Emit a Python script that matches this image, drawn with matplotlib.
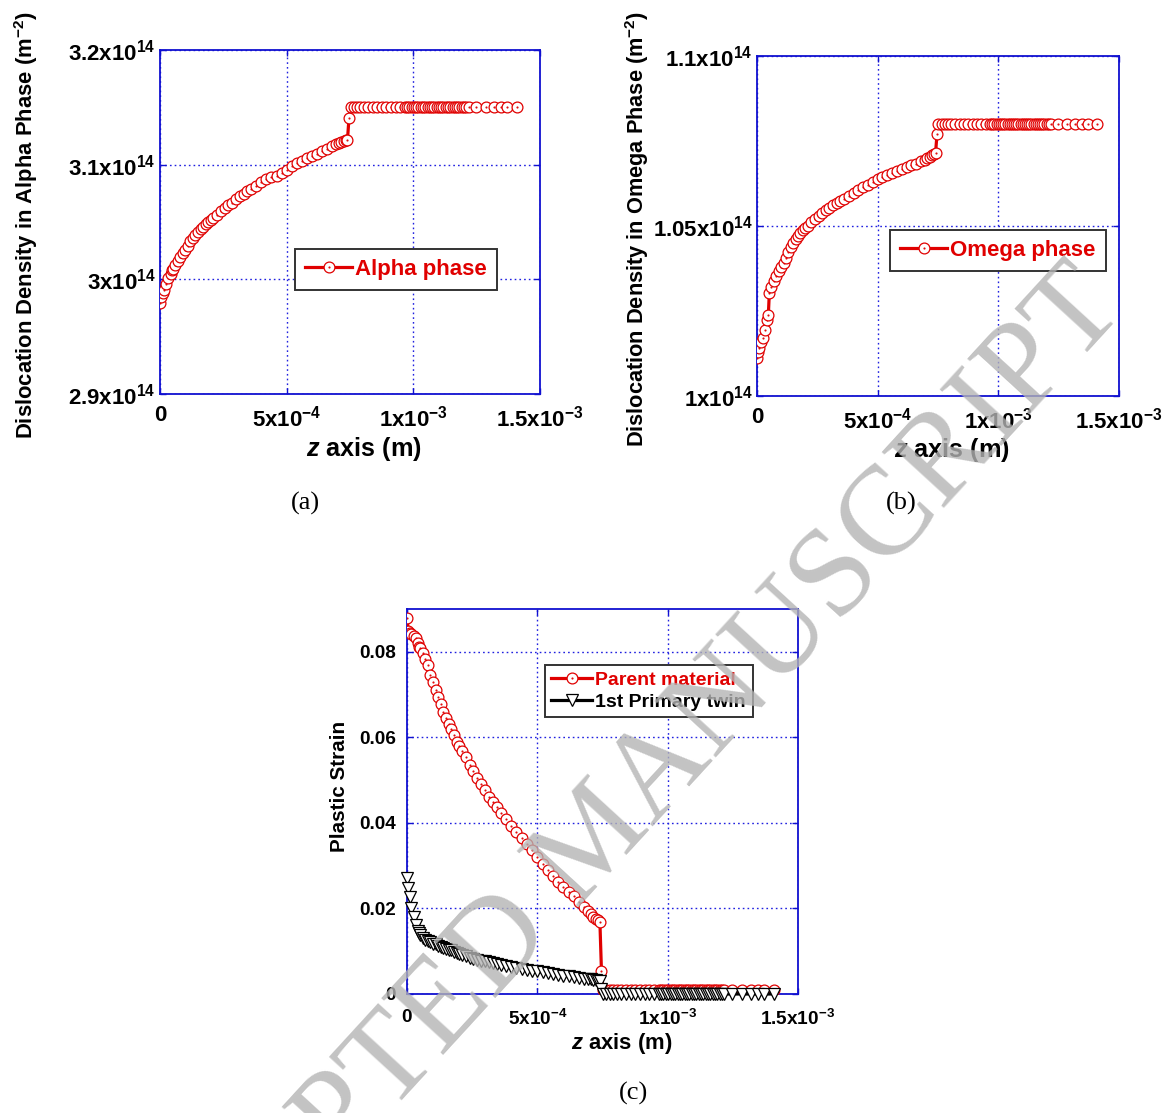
import numpy as np
import matplotlib
matplotlib.use("Agg")
import matplotlib.pyplot as plt
from matplotlib.path import Path
from matplotlib.ticker import FixedLocator, FixedFormatter

plt.rcParams["font.family"] = ["Liberation Sans", "DejaVu Sans"]
plt.rcParams["font.weight"] = "bold"
plt.rcParams["axes.labelweight"] = "bold"
plt.rcParams["mathtext.fontset"] = "custom"
plt.rcParams["mathtext.rm"] = "Liberation Sans:bold"
plt.rcParams["mathtext.it"] = "Liberation Sans:bold:italic"
plt.rcParams["mathtext.bf"] = "Liberation Sans:bold"
plt.rcParams["mathtext.default"] = "rm"

# ---------------------------------------------------------------- data
# z position along the specimen (units of 1e-4 m)
z_e4 = [
    0.00, 0.05, 0.10, 0.17, 0.25, 0.33, 0.42, 0.47, 0.51, 0.60,
    0.70, 0.80, 0.90, 1.00, 1.10, 1.20, 1.30, 1.40, 1.50, 1.60,
    1.70, 1.80, 1.90, 2.00, 2.10, 2.25, 2.40, 2.55, 2.70, 2.85,
    3.00, 3.15, 3.30, 3.45, 3.60, 3.80, 4.00, 4.20, 4.40, 4.60,
    4.80, 5.00, 5.20, 5.40, 5.60, 5.80, 6.00, 6.20, 6.40, 6.60,
    6.80, 6.95, 7.05, 7.15, 7.25, 7.33, 7.40, 7.46,
    7.52, 7.65, 7.78, 7.91, 8.04, 8.22, 8.40, 8.58, 8.76, 8.94,
    9.12, 9.30, 9.48, 9.66, 9.75, 9.84, 9.93, 10.02, 10.11, 10.20,
    10.29, 10.38, 10.47, 10.56, 10.65, 10.74, 10.83, 10.92, 11.01, 11.10,
    11.19, 11.28, 11.37, 11.46, 11.55, 11.64, 11.73, 11.82, 11.91, 12.00,
    12.09, 12.18, 12.47, 12.86, 13.19, 13.45, 13.71, 14.08,
]

# dislocation density in the alpha phase (units of 1e14 m^-2)
alpha_e14 = [
    2.979, 2.985, 2.988, 2.991, 2.996, 3.001, 3.005, 3.008, 3.009, 3.0125,
    3.016, 3.0195, 3.023, 3.026, 3.0295, 3.033, 3.036, 3.0385, 3.041, 3.0435,
    3.046, 3.048, 3.0497, 3.0515, 3.0532, 3.0565, 3.060, 3.0625, 3.0645, 3.067,
    3.0697, 3.0724, 3.0748, 3.077, 3.079, 3.0817, 3.0845, 3.0872, 3.0893, 3.0905,
    3.0928, 3.0955, 3.0985, 3.1015, 3.1035, 3.1054, 3.1073, 3.1095, 3.1117, 3.1139,
    3.1162, 3.1178, 3.119, 3.120, 3.121, 3.1213, 3.1215, 3.1407,
    3.15, 3.15, 3.15, 3.15, 3.15, 3.15, 3.15, 3.15, 3.15, 3.15,
    3.15, 3.15, 3.15, 3.15, 3.15, 3.15, 3.15, 3.15, 3.15, 3.15,
    3.15, 3.15, 3.15, 3.15, 3.15, 3.15, 3.15, 3.15, 3.15, 3.15,
    3.15, 3.15, 3.15, 3.15, 3.15, 3.15, 3.15, 3.15, 3.15, 3.15,
    3.15, 3.15, 3.15, 3.15, 3.15, 3.15, 3.15, 3.15,
]

# dislocation density in the omega phase (units of 1e14 m^-2)
omega_e14 = [
    1.0111, 1.0128, 1.0142, 1.0158, 1.0172, 1.0195, 1.0225, 1.0239, 1.0302, 1.032,
    1.0338, 1.0353, 1.0367, 1.0379, 1.0391, 1.0405, 1.0423, 1.0438, 1.045, 1.0461,
    1.047, 1.0479, 1.0487, 1.0494, 1.0501, 1.0511, 1.052, 1.0529, 1.0538, 1.0546,
    1.0554, 1.0561, 1.0567, 1.0574, 1.058, 1.0588, 1.0597, 1.0606, 1.0614, 1.0622,
    1.063, 1.0637, 1.0644, 1.065, 1.0656, 1.0661, 1.0667, 1.0673, 1.0678, 1.0683,
    1.069, 1.0695, 1.070, 1.0703, 1.0708, 1.0712, 1.0716, 1.0771,
    1.08, 1.08, 1.08, 1.08, 1.08, 1.08, 1.08, 1.08, 1.08, 1.08,
    1.08, 1.08, 1.08, 1.08, 1.08, 1.08, 1.08, 1.08, 1.08, 1.08,
    1.08, 1.08, 1.08, 1.08, 1.08, 1.08, 1.08, 1.08, 1.08, 1.08,
    1.08, 1.08, 1.08, 1.08, 1.08, 1.08, 1.08, 1.08, 1.08, 1.08,
    1.08, 1.08, 1.08, 1.08, 1.08, 1.08, 1.08, 1.08,
]

# plastic strain in the parent material
parent_strain = [
    0.088, 0.0848, 0.0845, 0.0842, 0.0838, 0.0832, 0.082, 0.0812, 0.0808, 0.0797,
    0.0784, 0.0769, 0.0746, 0.0729, 0.0711, 0.0695, 0.0679, 0.0659, 0.0645, 0.0631,
    0.0619, 0.0606, 0.059, 0.0579, 0.0567, 0.0553, 0.0536, 0.0521, 0.0504, 0.049,
    0.0477, 0.0461, 0.0449, 0.0438, 0.0424, 0.0408, 0.0392, 0.0378, 0.0364, 0.0351,
    0.0337, 0.032, 0.0305, 0.0291, 0.0276, 0.0262, 0.0251, 0.0239, 0.023, 0.0216,
    0.0203, 0.0193, 0.0187, 0.0181, 0.0176, 0.0172, 0.0169, 0.0054,
    0.0009, 0.0009, 0.0009, 0.0009, 0.0009, 0.0009, 0.0009, 0.0009, 0.0009, 0.0009,
    0.0009, 0.0009, 0.0009, 0.0009, 0.0009, 0.0009, 0.0009, 0.0009, 0.0009, 0.0009,
    0.0009, 0.0009, 0.0009, 0.0009, 0.0009, 0.0009, 0.0009, 0.0009, 0.0009, 0.0009,
    0.0009, 0.0009, 0.0009, 0.0009, 0.0009, 0.0009, 0.0009, 0.0009, 0.0009, 0.0009,
    0.0009, 0.0009, 0.0009, 0.0009, 0.0009, 0.0009, 0.0009, 0.0009,
]

# plastic strain in the first primary twin
twin_strain = [
    0.0272, 0.0247, 0.0227, 0.020, 0.0181, 0.0161, 0.0148, 0.0142, 0.0138, 0.0132,
    0.0127, 0.0124, 0.0121, 0.0118, 0.0116, 0.0113, 0.0111, 0.0108, 0.0106, 0.0104,
    0.0102, 0.0099, 0.0097, 0.0094, 0.0091, 0.0088, 0.0085, 0.0082, 0.008, 0.0078,
    0.0076, 0.0074, 0.0072, 0.007, 0.0068, 0.0065, 0.0063, 0.006, 0.0058, 0.0056,
    0.0054, 0.0053, 0.0051, 0.0049, 0.0047, 0.0045, 0.0043, 0.0041, 0.004, 0.0038,
    0.0036, 0.0035, 0.0034, 0.0033, 0.0032, 0.0031, 0.0031, 0.0012,
    0.0, 0.0, 0.0, 0.0, 0.0, 0.0, 0.0, 0.0, 0.0, 0.0,
    0.0, 0.0, 0.0, 0.0, 0.0, 0.0, 0.0, 0.0, 0.0, 0.0,
    0.0, 0.0, 0.0, 0.0, 0.0, 0.0, 0.0, 0.0, 0.0, 0.0,
    0.0, 0.0, 0.0, 0.0, 0.0, 0.0, 0.0, 0.0, 0.0, 0.0,
    0.0, 0.0, 0.0, 0.0, 0.0, 0.0, 0.0, 0.0,
]

x_ticks = [0.0, 5e-4, 1e-3, 1.5e-3]
x_tick_labels = ["0", "5x10$^{-4}$", "1x10$^{-3}$", "1.5x10$^{-3}$"]
alpha_ticks = [2.9e14, 3.0e14, 3.1e14, 3.2e14]
alpha_tick_labels = ["2.9x10$^{14}$", "3x10$^{14}$", "3.1x10$^{14}$", "3.2x10$^{14}$"]
omega_ticks = [1.0e14, 1.05e14, 1.1e14]
omega_tick_labels = ["1x10$^{14}$", "1.05x10$^{14}$", "1.1x10$^{14}$"]
strain_ticks = [0.0, 0.02, 0.04, 0.06, 0.08]
strain_tick_labels = ["0", "0.02", "0.04", "0.06", "0.08"]

z = np.array(z_e4) * 1e-4
alpha = np.array(alpha_e14) * 1e14
omega = np.array(omega_e14) * 1e14
parent = np.array(parent_strain)
twin = np.array(twin_strain)

# ---------------------------------------------------------------- style
RED = "#e00000"
AXIS_BLUE = "#1010d0"
GRID_BLUE = "#2020e0"
W, H = 1168, 1113

# open circle with a small centre dot
ring_dot = Path.make_compound_path(Path.unit_circle(), Path.circle((0, 0), 0.08))


def px_axes(left, top, right, bottom):
    return fig.add_axes([left / W, 1 - bottom / H, (right - left) / W, (bottom - top) / H])


def style(ax, fs, xpad, ypad):
    for s in ax.spines.values():
        s.set_color(AXIS_BLUE)
        s.set_linewidth(1.3)
    ax.tick_params(direction="in", length=4, width=1, color=AXIS_BLUE,
                   top=True, right=True, labelsize=fs, labelcolor="black")
    ax.tick_params(axis="x", pad=xpad)
    ax.tick_params(axis="y", pad=ypad)
    ax.grid(True, color=GRID_BLUE, linestyle=(0, (1.2, 2.2)), linewidth=1.0)
    ax.set_axisbelow(True)
    ax.set_xlim(0, 1.5e-3)
    ax.xaxis.set_major_locator(FixedLocator(x_ticks))
    ax.xaxis.set_major_formatter(FixedFormatter(x_tick_labels))


def red_series(ax, y, label):
    ax.plot(z, y, color=RED, lw=2.3, marker=ring_dot, ms=7.8, mfc="white",
            mec=RED, mew=0.9, label=label, zorder=3)


def boxed_legend(ax, anchor, fs, pad, spacing=0.5):
    leg = ax.legend(loc="center", bbox_to_anchor=anchor, fontsize=fs,
                    handlelength=2.1, handletextpad=0.15, borderpad=pad,
                    labelspacing=spacing, fancybox=False, framealpha=1,
                    edgecolor="#333333")
    leg.get_frame().set_linewidth(1.4)
    return leg


fig = plt.figure(figsize=(W / 100, H / 100), dpi=100)

# (a) alpha phase
ax_a = px_axes(160, 50, 540, 394)
style(ax_a, 16, 8, 3)
red_series(ax_a, alpha, "Alpha phase")
ax_a.set_ylim(2.9e14, 3.2e14)
ax_a.yaxis.set_major_locator(FixedLocator(alpha_ticks))
ax_a.yaxis.set_major_formatter(FixedFormatter(alpha_tick_labels))
ax_a.set_ylabel("Dislocation Density in Alpha Phase (m$^{-2}$)", fontsize=15.8)
ax_a.yaxis.set_label_coords(-0.316, 0.49)
ax_a.set_xlabel(r"$\mathit{z}$ axis (m)", fontsize=18.2)
ax_a.xaxis.set_label_coords(0.538, -0.12)
leg = boxed_legend(ax_a, (0.622, 0.363), 16, 0.45)
for t in leg.get_texts():
    t.set_color(RED)

# (b) omega phase
ax_b = px_axes(757, 56, 1119, 396)
style(ax_b, 16, 8, 3)
red_series(ax_b, omega, "Omega phase")
ax_b.set_ylim(1.0e14, 1.1e14)
ax_b.yaxis.set_major_locator(FixedLocator(omega_ticks))
ax_b.yaxis.set_major_formatter(FixedFormatter(omega_tick_labels))
ax_b.set_ylabel("Dislocation Density in Omega Phase (m$^{-2}$)", fontsize=15.7)
ax_b.yaxis.set_label_coords(-0.293, 0.49)
ax_b.set_xlabel(r"$\mathit{z}$ axis (m)", fontsize=18.2)
ax_b.xaxis.set_label_coords(0.539, -0.117)
leg = boxed_legend(ax_b, (0.666, 0.429), 16, 0.45)
for t in leg.get_texts():
    t.set_color(RED)

# (c) plastic strain
ax_c = px_axes(407, 609, 798, 994)
style(ax_c, 13.7, 11, 8)
red_series(ax_c, parent, "Parent material")
ax_c.plot(z, twin, color="black", lw=2.3, marker="v", ms=8, mfc="white",
          mec="black", mew=0.9, label="1st Primary twin", zorder=4, clip_on=False)
ax_c.set_ylim(0, 0.09)
ax_c.yaxis.set_major_locator(FixedLocator(strain_ticks))
ax_c.yaxis.set_major_formatter(FixedFormatter(strain_tick_labels))
ax_c.set_ylabel("Plastic Strain", fontsize=14.9)
ax_c.yaxis.set_label_coords(-0.148, 0.538)
ax_c.set_xlabel(r"$\mathit{z}$ axis (m)", fontsize=15.8)
ax_c.xaxis.set_label_coords(0.55, -0.095)
leg = boxed_legend(ax_c, (0.618, 0.787), 14, 0.35, spacing=0.2)
leg.get_texts()[0].set_color(RED)
leg.get_texts()[1].set_color("black")

# panel captions
for x, y, s in [(305, 503, "(a)"), (901, 503, "(b)"), (634, 1093, "(c)")]:
    fig.text(x / W, 1 - y / H, s, family="Liberation Serif", weight="normal",
             fontsize=19, ha="center", va="center")

# journal watermark
fig.text(0.512, 0.244, "ACCEPTED MANUSCRIPT", family="Liberation Serif",
         weight="normal", fontsize=91, color="#b4b4b4", alpha=0.8,
         rotation=47.5, rotation_mode="anchor", ha="center", va="center", zorder=10)

fig.savefig("out.png", dpi=100)
